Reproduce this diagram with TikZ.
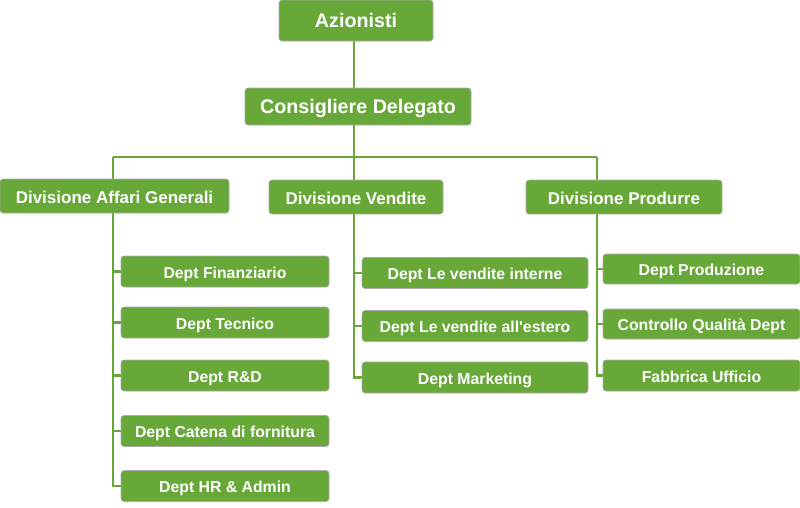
\documentclass[tikz,border=0pt]{standalone}
\usepackage{fontspec}
\setmainfont{Liberation Sans}[Ligatures=TeXOff]
\usetikzlibrary{backgrounds}
\definecolor{boxgreen}{RGB}{104,168,56}
\definecolor{boxedge}{RGB}{170,170,170}
\tikzset{
 box/.style={draw=boxedge, line width=0.6pt, fill=boxgreen, rounded corners=3pt, text=white, inner sep=0pt, anchor=center, text depth=0pt},
 topbox/.style={box, font=\fontsize{19.7}{22}\selectfont\bfseries, text height=14pt},
 divbox/.style={box, font=\fontsize{17}{20}\selectfont\bfseries, minimum height=34pt, text height=14pt},
 deptbox/.style={box, font=\fontsize{15.8}{18}\selectfont\bfseries, minimum height=31pt, text height=13pt},
 link/.style={draw=boxgreen, line width=2.6pt},
}
\begin{document}
\begin{tikzpicture}[x=1pt,y=-1pt]
\useasboundingbox (0,0) rectangle (800,507);
\node[topbox, minimum width=154pt, minimum height=41pt] (az) at (356,20.5) {Azionisti};
\node[topbox, minimum width=226pt, minimum height=37pt] (cd) at (358,106.5) {Consigliere Delegato};
\node[divbox, minimum width=229pt] (dag) at (114.5,196) {Divisione Affari Generali};
\node[divbox, minimum width=174pt] (dv) at (356,197) {Divisione Vendite};
\node[divbox, minimum width=196pt] (dp) at (624,197) {Divisione Produrre};
% left departments
\node[deptbox, minimum width=208pt] (fin) at (225,271.5) {Dept Finanziario};
\node[deptbox, minimum width=208pt] (tec) at (225,322.5) {Dept Tecnico};
\node[deptbox, minimum width=208pt] (rd) at (225,375.5) {Dept R\&D};
\node[deptbox, minimum width=208pt] (cat) at (225,431) {Dept Catena di fornitura};
\node[deptbox, minimum width=208pt] (hr) at (225,486) {Dept HR \& Admin};
% center departments
\node[deptbox, minimum width=226pt] (vi) at (475,273) {Dept Le vendite interne};
\node[deptbox, minimum width=226pt] (ve) at (475,326) {Dept Le vendite all'estero};
\node[deptbox, minimum width=226pt] (mk) at (475,377.5) {Dept Marketing};
% right departments
\node[deptbox, minimum width=197pt, minimum height=30pt] (prod) at (701.5,269) {Dept Produzione};
\node[deptbox, minimum width=197pt, minimum height=30pt] (cq) at (701.5,324) {Controllo Qualità Dept};
\node[deptbox, minimum width=197pt, minimum height=31pt] (fab) at (701.5,375.5) {Fabbrica Ufficio};
% connectors
\coordinate (jl) at (113,157);
\coordinate (jc) at (354,157);
\coordinate (jr) at (597,157);
\begin{scope}[on background layer]
\draw[link] (jc |- az.south) -- (jc |- dv.north);
\draw[link] (jl) -- (jr);
\draw[link] (jl) |- (hr.west);
\foreach \n in {fin,tec,rd,cat} \draw[link] (jl |- \n.west) -- (\n.west);
\draw[link] (jc) |- (mk.west);
\foreach \n in {vi,ve} \draw[link] (jc |- \n.west) -- (\n.west);
\draw[link] (jr) |- (fab.west);
\foreach \n in {prod,cq} \draw[link] (jr |- \n.west) -- (\n.west);
\end{scope}
\end{tikzpicture}
\end{document}
